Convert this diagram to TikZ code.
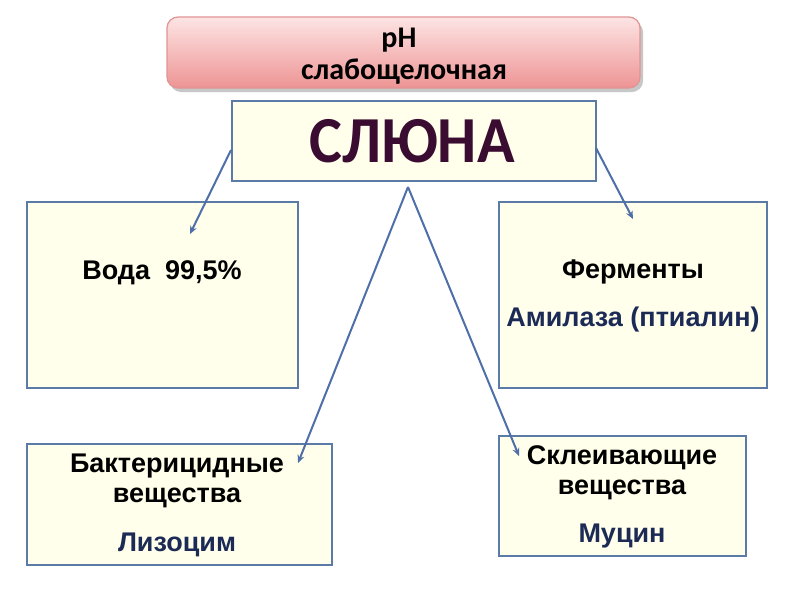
\documentclass[tikz,border=0pt]{standalone}
\usepackage{fontspec}
\setmainfont{Liberation Sans}
\newfontfamily\calib{Carlito}
\usetikzlibrary{arrows.meta,shadows}
\definecolor{boxfill}{HTML}{FFFFEB}
\definecolor{boxline}{HTML}{5A7BA5}
\definecolor{arrowcol}{HTML}{4F6FA8}
\definecolor{navy}{HTML}{1C2A56}
\definecolor{plum}{HTML}{3A0C32}
\definecolor{pinktop}{HTML}{FDE4E4}
\definecolor{pinkbot}{HTML}{EE9494}
\definecolor{pinkline}{HTML}{E09494}
\tikzset{
  panel/.style={draw=boxline, line width=2.6pt, fill=boxfill},
  conn/.style={draw=arrowcol, line width=2pt, -{Stealth[length=8pt,width=7pt]}},
  bodytext/.style={font=\fontsize{27}{30}\selectfont\bfseries, inner sep=0pt},
  phtext/.style={font=\calib\fontsize{30}{34}\selectfont\bfseries, inner sep=0pt}
}
\begin{document}
\begin{tikzpicture}[x=1pt,y=-1pt]
\useasboundingbox (0,0) rectangle (800,600);
\fill[white] (0,0) rectangle (800,600);
% pH box
\fill[black!22, rounded corners=11pt] (170,21) rectangle (643,92);
\shade[top color=pinktop, bottom color=pinkbot, draw=pinkline, line width=1.2pt, rounded corners=11pt] (167,17) rectangle (640,88);
\node[phtext] (ph) at (399,40) {рН};
\node[phtext] (alk) at (404,72) {слабощелочная};
% central box
\draw[panel] (232,101) rectangle (596,181);
\node[font=\calib\fontsize{62}{70}\selectfont\bfseries, text=plum, inner sep=0pt, yscale=1.06] (saliva) at (412,141) {СЛЮНА};
% boxes
\draw[panel] (27,202) rectangle (298,388);
\draw[panel] (499,202) rectangle (767,388);
\draw[panel] (27,444) rectangle (332,565);
\draw[panel] (499,436) rectangle (746,556);
\node[bodytext] (water) at (162,273) {Вода\ \ 99,5\%};
\node[bodytext] (enz) at (633,272) {Ферменты};
\node[bodytext, text=navy] (amyl) at (633,320) {Амилаза (птиалин)};
\node[bodytext] (bact) at (177,466) {Бактерицидные};
\node[bodytext] (subst1) at (177,498) {вещества};
\node[bodytext, text=navy] (lys) at (177,545) {Лизоцим};
\node[bodytext] (glue) at (622,458) {Склеивающие};
\node[bodytext] (subst2) at (622,490) {вещества};
\node[bodytext, text=navy] (muc) at (622,536) {Муцин};
% connectors
\coordinate (sl) at (231,150);
\coordinate (sr) at (596,148);
\coordinate (apex) at (408,187);
\coordinate (wtip) at (190,234);
\coordinate (etip) at (633,219);
\coordinate (btip) at (298,463);
\coordinate (gtip) at (519,456);
\draw[conn] (sl) -- (wtip);
\draw[conn] (sr) -- (etip);
\draw[conn] (apex) -- (btip);
\draw[conn] (apex) -- (gtip);
\end{tikzpicture}
\end{document}
